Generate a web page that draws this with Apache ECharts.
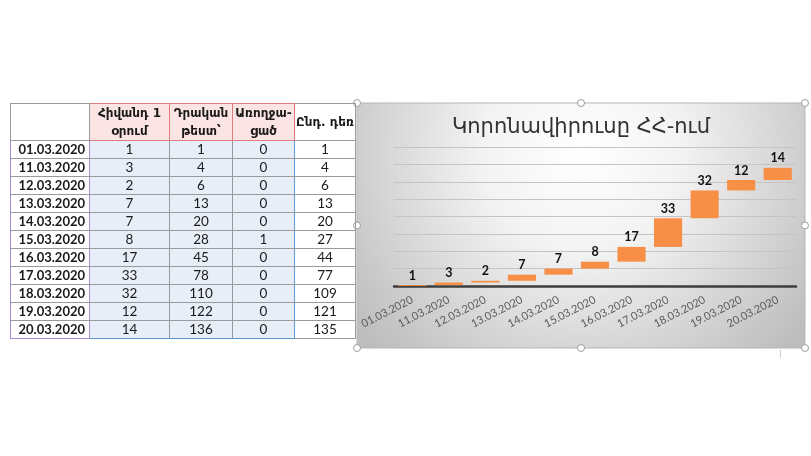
<!DOCTYPE html>
<html>
<head>
<meta charset="utf-8">
<script src="https://cdn.jsdelivr.net/npm/echarts@6/dist/echarts.min.js"></script>
<style>
  html, body { margin: 0; padding: 0; background: #fff; }
  #chart { position: absolute; left: 0; top: 0; width: 811px; height: 456px; }
  #sheet {
    position: absolute; left: 10px; top: 103px; z-index: 5;
    border-collapse: collapse; table-layout: fixed; width: 345px;
    font-family: Lato, 'DejaVu Sans', sans-serif; font-size: 13.5px; color: #1a1a1a;
  }
  #sheet td { border: 1px solid #9a9a9a; height: 17px; padding: 0; text-align: center; line-height: 17px; }
  #sheet tr.head td { height: 36px; line-height: 18px; font-family: 'DejaVu Sans', sans-serif; font-size: 12px; font-weight: bold; }
  #sheet td.hd { background: #fbe4e4; border-color: #e07b7b; }
  #sheet td.dt { font-weight: bold; text-align: right; padding-right: 4px; font-size: 13px; border-left-color: #a98bd8; border-right-color: #a98bd8; }
  #sheet tr:last-child td.dt { border-bottom-color: #a98bd8; }
  #sheet td.bl { background: #e7eef8; }
  #sheet td.bl.last { border-right-color: #5b9bd5; }
  #sheet tr:last-child td.bl { border-bottom-color: #5b9bd5; }
</style>
</head>
<body>
<div id="chart"></div>
<table id="sheet"></table>
<script>
// table / chart data
const dates = ['01.03.2020', '11.03.2020', '12.03.2020', '13.03.2020', '14.03.2020', '15.03.2020',
    '16.03.2020', '17.03.2020', '18.03.2020', '19.03.2020', '20.03.2020']
const dailyCases = [1, 3, 2, 7, 7, 8, 17, 33, 32, 12, 14]
const positiveTests = [1, 4, 6, 13, 20, 28, 45, 78, 110, 122, 136]
const recovered = [0, 0, 0, 0, 0, 1, 0, 0, 0, 0, 0]
const stillSick = [1, 4, 6, 13, 20, 27, 44, 77, 109, 121, 135]
const headers = [['Հիվանդ 1', 'օրում'], ['Դրական', 'թեստ՝'], ['Առողջա-', 'ցած'], ['Ընդ. դեռ']]
const chartTitle = 'Կորոնավիրուսը ՀՀ-ում'

// --- the spreadsheet part
let html = '<colgroup><col style="width:79px"><col style="width:80px"><col style="width:63px"><col style="width:62px"><col style="width:61px"></colgroup>'
html += '<tr class="head"><td></td>'
headers.forEach((h, i) => {
    html += '<td class="' + (i < 3 ? 'hd' : '') + '">' + h.join('<br>') + '</td>'
})
html += '</tr>'
dates.forEach((d, i) => {
    html += '<tr><td class="dt">' + d + '</td>' +
        '<td class="bl">' + dailyCases[i] + '</td>' +
        '<td class="bl">' + positiveTests[i] + '</td>' +
        '<td class="bl last">' + recovered[i] + '</td>' +
        '<td>' + stillSick[i] + '</td></tr>'
})
document.getElementById('sheet').innerHTML = html

// --- the waterfall chart
const chart = echarts.init(document.getElementById('chart'))

const box = {x: 357, y: 103, w: 448, h: 245}
const handles = [
    [box.x, box.y], [box.x + box.w / 2, box.y], [box.x + box.w, box.y],
    [box.x, box.y + box.h / 2], [box.x + box.w, box.y + box.h / 2],
    [box.x, box.y + box.h], [box.x + box.w / 2, box.y + box.h], [box.x + box.w, box.y + box.h]
]

const baseData = positiveTests.map((v, i) => v - dailyCases[i])

chart.setOption({
    animation: false,
    graphic: [
        {
            type: 'rect', z: -10,
            shape: {x: box.x, y: box.y, width: box.w, height: box.h},
            style: {
                fill: new echarts.graphic.RadialGradient(0.5, 0.2, 1.15, [
                    {offset: 0, color: '#ffffff'},
                    {offset: 0.35, color: '#f3f3f3'},
                    {offset: 1, color: '#bdbdbd'}
                ]),
                stroke: '#b5b5b5', lineWidth: 1
            }
        },
        {
            type: 'text', z: 10,
            style: {
                x: 581, y: 128, text: chartTitle, align: 'center', verticalAlign: 'middle',
                font: '21px "DejaVu Sans", sans-serif', fill: '#333333'
            }
        },
        {
            type: 'line', z: 10,
            shape: {x1: 780.5, y1: 350, x2: 780.5, y2: 358},
            style: {stroke: '#d0d0d0', lineWidth: 1}
        }
    ].concat(handles.map(p => ({
        type: 'circle', z: 20,
        shape: {cx: p[0], cy: p[1], r: 3.5},
        style: {fill: '#ffffff', stroke: '#9c9c9c', lineWidth: 1}
    }))),
    grid: {left: 394, right: 15, top: 147, bottom: 170},
    xAxis: {
        type: 'category',
        data: dates,
        axisTick: {show: false},
        axisLine: {lineStyle: {color: '#3d3d3d', width: 2.5}},
        axisLabel: {
            interval: 0, rotate: 27, margin: 13,
            color: '#595959', fontSize: 11, fontFamily: 'Lato, sans-serif'
        }
    },
    yAxis: {
        type: 'value',
        min: 0, max: 160, interval: 20,
        axisLabel: {show: false},
        axisLine: {show: false},
        axisTick: {show: false},
        splitLine: {lineStyle: {color: '#c4c4c4', width: 1}}
    },
    series: [
        {
            type: 'bar', stack: 'wf', barWidth: '77%',
            itemStyle: {color: 'transparent'},
            data: baseData,
            silent: true
        },
        {
            type: 'bar', stack: 'wf', barWidth: '77%',
            itemStyle: {color: '#f79046'},
            label: {
                show: true, position: 'top', distance: 3,
                color: '#111', fontWeight: 'bold', fontSize: 12.5, fontFamily: 'Lato, sans-serif'
            },
            data: dailyCases
        }
    ]
})
</script>
</body>
</html>
